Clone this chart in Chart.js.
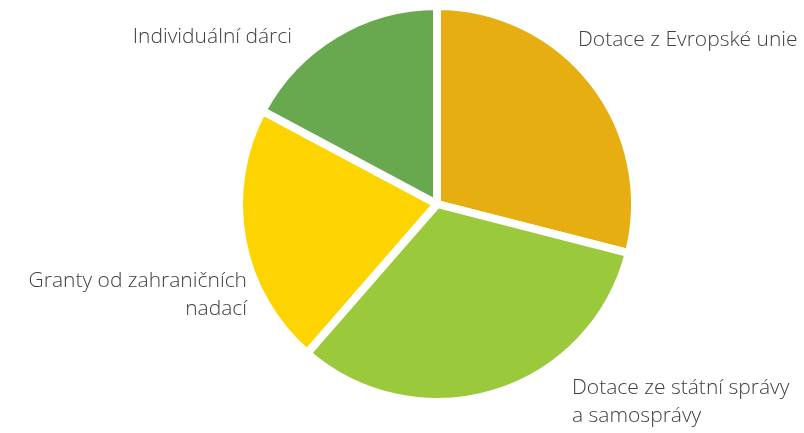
<!DOCTYPE html>
<html>
<head>
<meta charset="utf-8">
<script src="https://cdn.jsdelivr.net/npm/chart.js@4"></script>
<style>
  html, body { margin: 0; padding: 0; background: #fff; }
  #wrap { width: 804px; height: 433px; }
</style>
</head>
<body>
<div id="wrap"><canvas id="pie"></canvas></div>
<script>
// data (percent shares, clockwise from 12 o'clock)
const labels = [
    ['Dotace z Evropské unie'],
    ['Dotace ze státní správy', 'a samosprávy'],
    ['Granty od zahraničních', 'nadací'],
    ['Individuální dárci']
];
const shares = [29.0, 32.4, 21.4, 17.2];
const colors = ['#E6AE10', '#9BC93C', '#FED400', '#68A84F'];

// where each label sits relative to the pie centre, and how it is aligned
const labelSpots = [
    { dx: 141, dy: -164, align: 'left' },
    { dx: 135, dy: 184, align: 'left' },
    { dx: -190, dy: 77, align: 'right' },
    { dx: -145, dy: -167, align: 'right' }
];

const outsideLabels = {
    id: 'outsideLabels',
    afterDraw(chart) {
        const ctx = chart.ctx;
        const arcs = chart.getDatasetMeta(0).data;
        if (!arcs.length) return;
        const cx = arcs[0].x, cy = arcs[0].y;
        ctx.save();
        ctx.font = '300 21px "Open Sans"';
        ctx.fillStyle = '#404040';
        ctx.textBaseline = 'middle';
        labels.forEach((lines, i) => {
            const spot = labelSpots[i];
            ctx.textAlign = spot.align;
            lines.forEach((line, j) => {
                ctx.fillText(line, cx + spot.dx, cy + spot.dy + j * 28);
            });
        });
        ctx.restore();
    }
};

const ctx = document.getElementById('pie').getContext('2d');
window.pieChart = new Chart(ctx, {
    type: 'pie',
    data: {
        labels: labels.map(l => l.join(' ')),
        datasets: [{
            data: shares,
            backgroundColor: colors,
            borderColor: '#ffffff',
            borderWidth: 8
        }]
    },
    options: {
        responsive: true,
        maintainAspectRatio: false,
        animation: false,
        layout: {
            padding: { left: 235, right: 165, top: 2, bottom: 27 }
        },
        plugins: {
            legend: { display: false },
            tooltip: { enabled: false }
        }
    },
    plugins: [outsideLabels]
});
</script>
</body>
</html>
